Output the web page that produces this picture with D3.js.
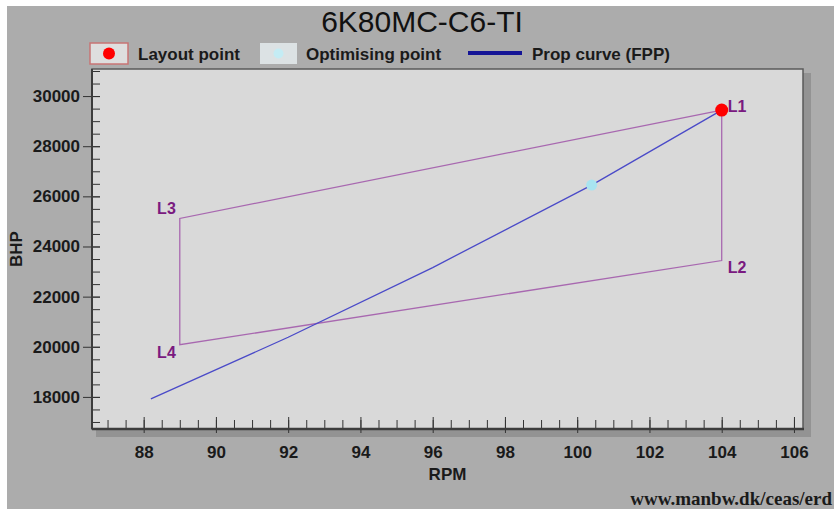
<!DOCTYPE html>
<html>
<head>
<meta charset="utf-8">
<script src="https://cdn.jsdelivr.net/npm/d3@7"></script>
<style>
  body { margin: 0; background: #ffffff; }
  svg { display: block; }
</style>
</head>
<body>
<div id="chart"></div>
<script>
// values
const cornerNames = ["L1", "L2", "L3", "L4"];
const cornerRpm = [104, 104, 89, 89];
const cornerBhp = [29440, 23440, 25120, 20080];

const propRpm = [88.2, 92, 96, 100.4, 104];
const propBhp = [17920, 20380, 23160, 26450, 29440];

const optRpm = [100.4];
const optBhp = [26450];

const xTickLabels = [88, 90, 92, 94, 96, 98, 100, 102, 104, 106];
const yTickLabels = [18000, 20000, 22000, 24000, 26000, 28000, 30000];

const W = 834, H = 509;
const plotL = 92, plotR = 803, plotT = 69, plotB = 429;

const svg = d3.select('#chart')
  .append('svg')
  .attr('width', W)
  .attr('height', H);

// outer panel
svg.append('rect').attr('x', 7).attr('y', 6).attr('width', W - 7).attr('height', H - 6)
  .attr('fill', '#acacac');

// shadow + plot area
svg.append('rect').attr('x', plotL + 4).attr('y', plotT + 4)
  .attr('width', plotR - plotL + 4).attr('height', plotB - plotT + 4)
  .attr('fill', '#939393');
svg.append('rect').attr('x', plotL).attr('y', plotT)
  .attr('width', plotR - plotL).attr('height', plotB - plotT)
  .attr('fill', '#d9d9d9').attr('stroke', '#5a5a5a').attr('stroke-width', 1.5);

const x = d3.scaleLinear().domain([86.57, 106.25]).range([plotL, plotR]);
const y = d3.scaleLinear().domain([16720, 31080]).range([plotB, plotT]);

// title
svg.append('text').attr('x', 422).attr('y', 32)
  .attr('text-anchor', 'middle')
  .attr('font-family', 'Liberation Sans, Arial, sans-serif')
  .attr('font-size', 30).attr('fill', '#111')
  .text('6K80MC-C6-TI');

// legend
const lg = svg.append('g').attr('font-family', 'Liberation Sans, Arial, sans-serif')
  .attr('font-size', 17).attr('font-weight', 'bold').attr('fill', '#1a1a1a');
lg.append('rect').attr('x', 90).attr('y', 43).attr('width', 38).attr('height', 21)
  .attr('fill', '#dedede').attr('stroke', '#c87474').attr('stroke-width', 1.5);
lg.append('circle').attr('cx', 109).attr('cy', 53.5).attr('r', 6).attr('fill', '#ff0000');
lg.append('text').attr('x', 138).attr('y', 60).text('Layout point');
lg.append('rect').attr('x', 260).attr('y', 43).attr('width', 37).attr('height', 21)
  .attr('fill', '#dce2e4');
lg.append('circle').attr('cx', 278.5).attr('cy', 53.5).attr('r', 5).attr('fill', '#c4ecf4');
lg.append('text').attr('x', 306).attr('y', 60).text('Optimising point');
lg.append('line').attr('x1', 468).attr('x2', 522).attr('y1', 53).attr('y2', 53)
  .attr('stroke', '#141496').attr('stroke-width', 4);
lg.append('text').attr('x', 532).attr('y', 60).text('Prop curve (FPP)');

// axes
const font = 'Liberation Sans, Arial, sans-serif';
const xMinor = d3.range(87, 106.01, 0.5);
const yMinor = d3.range(17000, 31000.1, 500);

const xMinorAxis = d3.axisBottom(x).tickValues(xMinor).tickSize(-9).tickFormat('');
svg.append('g').attr('transform', `translate(0,${plotB})`).call(xMinorAxis)
  .call(g => g.select('.domain').remove())
  .selectAll('line').attr('stroke', '#333');

const xMajorAxis = d3.axisBottom(x).tickValues(xTickLabels).tickSizeOuter(0).tickPadding(11);
const gx = svg.append('g').attr('transform', `translate(0,${plotB})`).call(xMajorAxis);
gx.select('.domain').remove();
gx.selectAll('line').attr('y2', 4).attr('y1', -12).attr('stroke', '#333');
gx.selectAll('text').attr('font-family', font).attr('font-size', 17)
  .attr('font-weight', 'bold').attr('fill', '#1a1a1a');

const yMinorAxis = d3.axisLeft(y).tickValues(yMinor).tickSize(-8).tickFormat('');
svg.append('g').attr('transform', `translate(${plotL},0)`).call(yMinorAxis)
  .call(g => g.select('.domain').remove())
  .selectAll('line').attr('stroke', '#333');

const yMajorAxis = d3.axisLeft(y).tickValues(yTickLabels).tickSizeOuter(0).tickPadding(6).tickFormat(d3.format('d'));
const gy = svg.append('g').attr('transform', `translate(${plotL},0)`).call(yMajorAxis);
gy.select('.domain').remove();
gy.selectAll('line').attr('x2', -9).attr('x1', 8).attr('stroke', '#333');
gy.selectAll('text').attr('font-family', font).attr('font-size', 17)
  .attr('font-weight', 'bold').attr('fill', '#1a1a1a');

// axis lines
svg.append('line').attr('x1', plotL).attr('x2', plotR + 1).attr('y1', plotB).attr('y2', plotB)
  .attr('stroke', '#3c3c3c').attr('stroke-width', 2.5);
svg.append('line').attr('x1', plotL).attr('x2', plotL).attr('y1', plotT).attr('y2', plotB)
  .attr('stroke', '#3c3c3c').attr('stroke-width', 2);

// axis titles
svg.append('text').attr('x', (plotL + plotR) / 2).attr('y', 480)
  .attr('text-anchor', 'middle').attr('font-family', font)
  .attr('font-size', 17).attr('font-weight', 'bold').attr('fill', '#1a1a1a')
  .text('RPM');
svg.append('text').attr('transform', `translate(22,${(plotT + plotB) / 2}) rotate(-90)`)
  .attr('text-anchor', 'middle').attr('font-family', font)
  .attr('font-size', 17).attr('font-weight', 'bold').attr('fill', '#1a1a1a')
  .text('BHP');

// layout diagram L1-L2-L4-L3
const order = [0, 1, 3, 2, 0];
svg.append('path')
  .datum(order)
  .attr('fill', 'none').attr('stroke', '#a868b0').attr('stroke-width', 1.3)
  .attr('d', d3.line().x(i => x(cornerRpm[i])).y(i => y(cornerBhp[i])));

// prop curve
svg.append('path')
  .datum(propRpm.map((r, i) => [r, propBhp[i]]))
  .attr('fill', 'none').attr('stroke', '#4a4ac8').attr('stroke-width', 1.3)
  .attr('d', d3.line().x(d => x(d[0])).y(d => y(d[1])));

// optimising point
svg.selectAll('circle.opt')
  .data(optRpm)
  .enter()
  .append('circle')
  .attr('class', 'opt')
  .attr('cx', d => x(d))
  .attr('cy', (d, i) => y(optBhp[i]))
  .attr('r', 5.5)
  .attr('fill', '#a8e4f0');

// layout point
svg.append('circle')
  .attr('cx', x(cornerRpm[0])).attr('cy', y(cornerBhp[0])).attr('r', 6.5)
  .attr('fill', '#ff0000');

// corner labels
const labelDx = [6, 6, -4, -4];
const labelDy = [2, 12, -4, 13];
const labelAnchor = ['start', 'start', 'end', 'end'];
svg.selectAll('text.corner')
  .data(cornerNames)
  .enter()
  .append('text')
  .attr('class', 'corner')
  .attr('x', (d, i) => x(cornerRpm[i]) + labelDx[i])
  .attr('y', (d, i) => y(cornerBhp[i]) + labelDy[i])
  .attr('text-anchor', (d, i) => labelAnchor[i])
  .attr('font-family', font).attr('font-size', 16).attr('font-weight', 'bold')
  .attr('fill', '#7a1a80')
  .text(d => d);

// footer
svg.append('text').attr('x', 832).attr('y', 505)
  .attr('text-anchor', 'end')
  .attr('font-family', 'Liberation Serif, Times New Roman, serif')
  .attr('font-size', 19).attr('font-weight', 'bold').attr('fill', '#1a1a1a')
  .text('www.manbw.dk/ceas/erd');
</script>
</body>
</html>
